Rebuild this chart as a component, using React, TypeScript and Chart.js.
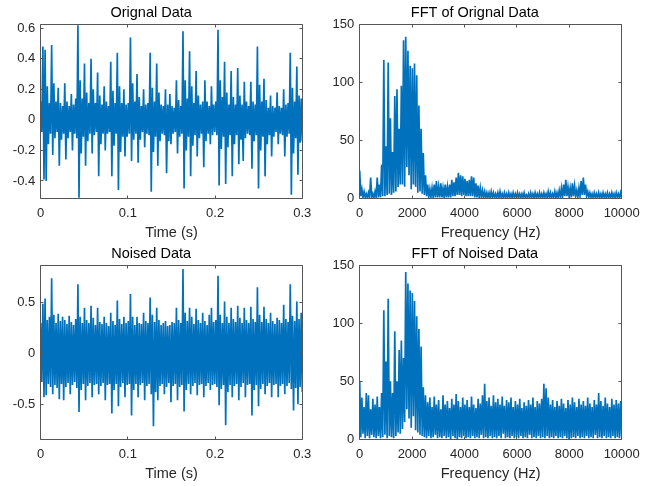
import React, { useEffect, useRef } from 'react';
import { Chart, registerables } from 'chart.js';

Chart.register(...registerables);

// ---------------- data ----------------
// Each plot is stored as an upper and a lower envelope per time/frequency bin.
const TIME_RANGE = [0, 0.3];
const TIME_TICKS = [0, 0.1, 0.2, 0.3];
const TIME_TICK_LABELS = ['0', '0.1', '0.2', '0.3'];

const FREQ_RANGE = [0, 10000];
const FREQ_TICKS = [0, 2000, 4000, 6000, 8000, 10000];
const FREQ_TICK_LABELS = ['0', '2000', '4000', '6000', '8000', '10000'];

const ORIG_Y_RANGE = [-0.515, 0.628];
const ORIG_Y_TICKS = [-0.4, -0.2, 0, 0.2, 0.4, 0.6];
const ORIG_Y_LABELS = ['-0.4', '-0.2', '0', '0.2', '0.4', '0.6'];

const NOISED_Y_RANGE = [-0.846, 0.87];
const NOISED_Y_TICKS = [-0.5, 0, 0.5];
const NOISED_Y_LABELS = ['-0.5', '0', '0.5'];

const FFT_Y_RANGE = [0, 150];
const FFT_Y_TICKS = [0, 50, 100, 150];
const FFT_Y_LABELS = ['0', '50', '100', '150'];

const origHigh = [
  0.12, 0.48, 0.46, 0.22, 0.11, 0.49, 0.24, 0.12, 0.21, 0.11,
  0.09, 0.24, 0.12, 0.09, 0.17, 0.10, 0.14, 0.62, 0.26, 0.14,
  0.37, 0.18, 0.11, 0.40, 0.20, 0.11, 0.31, 0.16, 0.10, 0.22,
  0.12, 0.09, 0.38, 0.19, 0.11, 0.44, 0.22, 0.11, 0.20, 0.10,
  0.11, 0.54, 0.24, 0.12, 0.30, 0.15, 0.09, 0.20, 0.10, 0.11,
  0.44, 0.21, 0.12, 0.37, 0.18, 0.10, 0.09, 0.20, 0.10, 0.17,
  0.09, 0.08, 0.26, 0.13, 0.09, 0.58, 0.26, 0.14, 0.45, 0.22,
  0.11, 0.32, 0.16, 0.10, 0.12, 0.26, 0.12, 0.09, 0.22, 0.10,
  0.12, 0.59, 0.26, 0.15, 0.38, 0.18, 0.10, 0.32, 0.15, 0.10,
  0.34, 0.16, 0.10, 0.25, 0.12, 0.09, 0.25, 0.12, 0.10, 0.48,
  0.23, 0.12, 0.27, 0.13, 0.08, 0.16, 0.09, 0.08, 0.18, 0.09,
  0.08, 0.20, 0.10, 0.11, 0.44, 0.21, 0.12, 0.35, 0.16, 0.14,
];
const origLow = [
  -0.08, -0.39, -0.40, -0.16, -0.09, -0.23, -0.12, -0.08, -0.30, -0.13,
  -0.09, -0.26, -0.12, -0.08, -0.20, -0.09, -0.12, -0.51, -0.22, -0.11,
  -0.30, -0.14, -0.09, -0.22, -0.10, -0.08, -0.37, -0.16, -0.09, -0.20,
  -0.09, -0.08, -0.37, -0.17, -0.09, -0.46, -0.21, -0.11, -0.24, -0.11,
  -0.09, -0.27, -0.13, -0.09, -0.28, -0.13, -0.08, -0.18, -0.09, -0.10,
  -0.47, -0.21, -0.11, -0.30, -0.14, -0.09, -0.10, -0.35, -0.14, -0.16,
  -0.09, -0.08, -0.22, -0.11, -0.09, -0.45, -0.20, -0.11, -0.37, -0.17,
  -0.10, -0.24, -0.12, -0.09, -0.31, -0.14, -0.09, -0.16, -0.10, -0.08,
  -0.10, -0.43, -0.19, -0.11, -0.42, -0.18, -0.10, -0.37, -0.16, -0.10,
  -0.29, -0.13, -0.27, -0.12, -0.09, -0.10, -0.32, -0.14, -0.10, -0.45,
  -0.20, -0.11, -0.37, -0.16, -0.10, -0.24, -0.11, -0.08, -0.16, -0.09,
  -0.10, -0.24, -0.11, -0.09, -0.49, -0.22, -0.12, -0.36, -0.15, -0.14,
];

const noisedHigh = [
  0.30, 0.49, 0.54, 0.33, 0.36, 0.74, 0.38, 0.30, 0.39, 0.32,
  0.36, 0.33, 0.29, 0.37, 0.31, 0.28, 0.34, 0.68, 0.36, 0.30,
  0.45, 0.33, 0.30, 0.47, 0.35, 0.28, 0.45, 0.31, 0.29, 0.36,
  0.30, 0.27, 0.40, 0.32, 0.28, 0.52, 0.34, 0.29, 0.36, 0.30,
  0.32, 0.585, 0.36, 0.28, 0.36, 0.30, 0.29, 0.40, 0.32, 0.30,
  0.55, 0.38, 0.31, 0.45, 0.33, 0.28, 0.30, 0.32, 0.27, 0.28,
  0.31, 0.30, 0.45, 0.33, 0.30, 0.83, 0.40, 0.32, 0.45, 0.36,
  0.29, 0.44, 0.33, 0.30, 0.40, 0.32, 0.28, 0.38, 0.45, 0.31,
  0.33, 0.765, 0.38, 0.30, 0.51, 0.36, 0.30, 0.45, 0.34, 0.31,
  0.47, 0.35, 0.30, 0.45, 0.33, 0.30, 0.46, 0.34, 0.31, 0.65,
  0.38, 0.31, 0.46, 0.34, 0.30, 0.40, 0.32, 0.29, 0.35, 0.33,
  0.30, 0.48, 0.34, 0.31, 0.68, 0.37, 0.32, 0.51, 0.34, 0.40,
];
const noisedLow = [
  -0.28, -0.43, -0.41, -0.30, -0.33, -0.40, -0.31, -0.34, -0.45, -0.30,
  -0.46, -0.33, -0.29, -0.40, -0.31, -0.28, -0.34, -0.575, -0.36, -0.30,
  -0.46, -0.32, -0.29, -0.43, -0.31, -0.30, -0.40, -0.32, -0.29, -0.46,
  -0.31, -0.30, -0.59, -0.36, -0.30, -0.52, -0.33, -0.29, -0.43, -0.31,
  -0.30, -0.61, -0.36, -0.30, -0.43, -0.31, -0.29, -0.46, -0.32, -0.30,
  -0.40, -0.716, -0.38, -0.46, -0.32, -0.30, -0.40, -0.33, -0.29, -0.48,
  -0.32, -0.30, -0.46, -0.33, -0.31, -0.57, -0.36, -0.30, -0.40, -0.32,
  -0.29, -0.41, -0.31, -0.30, -0.43, -0.32, -0.29, -0.36, -0.31, -0.30,
  -0.33, -0.51, -0.35, -0.31, -0.706, -0.38, -0.31, -0.43, -0.32, -0.30,
  -0.46, -0.33, -0.29, -0.43, -0.31, -0.30, -0.61, -0.36, -0.31, -0.52,
  -0.35, -0.30, -0.40, -0.32, -0.29, -0.43, -0.31, -0.30, -0.43, -0.32,
  -0.30, -0.40, -0.32, -0.29, -0.35, -0.56, -0.34, -0.50, -0.33, -0.38,
];

const fftOrigHigh = [
  24, 8, 6, 4, 5, 18, 4, 6, 18, 12,
  29, 119, 45, 117, 69, 40, 88, 94, 60, 97,
  136, 139, 127, 114, 112, 116, 106, 80, 60, 39,
  20, 12, 8, 9, 12, 15, 10, 13, 9, 12,
  10, 12, 16, 14, 18, 22, 20, 19, 17, 15,
  16, 19, 18, 13, 11, 9, 7, 6, 5, 5,
  6, 5, 4, 5, 6, 4, 5, 4, 5, 4,
  5, 4, 5, 4, 4, 5, 3, 4, 5, 4,
  5, 4, 5, 4, 5, 4, 6, 5, 4, 6,
  5, 7, 9, 12, 16, 10, 9, 13, 11, 7,
  9, 15, 18, 12, 6, 5, 4, 5, 4, 5,
  4, 5, 4, 5, 4, 5, 4, 5, 4, 5,
];
const fftOrigLow = [
  2, 1, 1, 0.5, 1, 1, 0.5, 1, 1, 1,
  2, 2, 3, 4, 3, 5, 6, 10, 12, 12,
  10, 27, 20, 8, 12, 10, 5, 6, 4, 3,
  2, 1, 1, 1, 1, 1, 1, 1, 1, 1,
  1, 1, 2, 2, 3, 3, 2, 3, 2, 2,
  2, 2, 1, 1, 1, 1, 1, 0.5, 1, 0.5,
  1, 0.5, 1, 0.5, 1, 0.5, 1, 0.5, 1, 0.5,
  1, 0.5, 1, 0.5, 1, 0.5, 1, 0.5, 1, 0.5,
  1, 0.5, 1, 0.5, 1, 0.5, 1, 0.5, 1, 0.5,
  1, 1, 1, 2, 2, 2, 1, 2, 2, 1,
  2, 3, 3, 2, 1, 1, 0.5, 1, 0.5, 1,
  0.5, 1, 0.5, 1, 0.5, 1, 0.5, 1, 0.5, 1,
];

const fftNoisedHigh = [
  50, 36, 28, 40, 38, 26, 35, 30, 37, 28,
  40, 111, 67, 121, 50, 40, 93, 50, 77, 85,
  70, 144, 134, 128, 126, 119, 106, 95, 80, 45,
  38, 32, 36, 28, 37, 30, 34, 26, 38, 30,
  33, 27, 35, 30, 39, 33, 28, 36, 30, 34,
  28, 37, 30, 27, 35, 31, 38, 48, 33, 36,
  29, 38, 32, 35, 30, 37, 29, 34, 32, 36,
  28, 33, 30, 35, 27, 32, 29, 34, 30, 36,
  28, 33, 31, 35, 48, 44, 36, 30, 34, 28,
  33, 29, 35, 31, 27, 34, 30, 36, 32, 28,
  35, 30, 33, 29, 36, 31, 28, 34, 30, 40,
  33, 29, 36, 31, 28, 35, 30, 34, 31, 33,
];
const fftNoisedLow = [
  2, 5, 1, 3, 1, 4, 2, 1, 3, 1,
  2, 4, 1, 3, 2, 1, 3, 6, 5, 9,
  15, 26, 18, 10, 20, 8, 6, 4, 3, 2,
  1, 3, 1, 2, 4, 1, 2, 1, 3, 1,
  2, 0.5, 3, 1, 0.5, 2, 1, 3, 1, 2,
  1, 3, 1, 2, 1, 4, 1, 2, 1, 3,
  1, 2, 1, 3, 1, 5, 1, 2, 1, 3,
  1, 2, 1, 3, 1, 2, 1, 4, 1, 2,
  1, 3, 1, 2, 1, 3, 1, 2, 1, 3,
  1, 2, 1, 3, 1, 0.5, 1, 2, 1, 3,
  1, 2, 1, 3, 1, 2, 1, 4, 1, 2,
  1, 3, 1, 2, 1, 3, 1, 2, 1, 3,
];

// ---------------- styles / layout ----------------
const BLUE = '#0072BD';
const AXIS_COLOR = '#555555';
const TEXT_COLOR = '#262626';
const FONT = '"Liberation Sans", Arial, Helvetica, sans-serif';
const TICK_SIZE = 13;
const LABEL_SIZE = 14.5;
const TITLE_SIZE = 14.5;
const TICK_LEN = 3;
const LINE_WIDTH = 1.7;

type AxisDef = { range: number[]; ticks: number[]; labels: string[] };
const AXES: Record<string, AxisDef> = {
  time: { range: TIME_RANGE, ticks: TIME_TICKS, labels: TIME_TICK_LABELS },
  freq: { range: FREQ_RANGE, ticks: FREQ_TICKS, labels: FREQ_TICK_LABELS },
  orig: { range: ORIG_Y_RANGE, ticks: ORIG_Y_TICKS, labels: ORIG_Y_LABELS },
  noised: { range: NOISED_Y_RANGE, ticks: NOISED_Y_TICKS, labels: NOISED_Y_LABELS },
  fft: { range: FFT_Y_RANGE, ticks: FFT_Y_TICKS, labels: FFT_Y_LABELS },
};

type Panel = {
  key: string; title: string; xLabel: string;
  high: number[]; low: number[]; xAxis: string; yAxis: string;
  left: number; top: number; w: number; h: number;
  area: { l: number; t: number; r: number; b: number };
};

const PANELS: Panel[] = [
  { key: 'orig', title: 'Orignal Data', xLabel: 'Time (s)', high: origHigh, low: origLow, xAxis: 'time', yAxis: 'orig',
    left: 0, top: 0, w: 328, h: 243, area: { l: 40.7, t: 24, r: 302.3, b: 198.5 } },
  { key: 'fftOrig', title: 'FFT of Orignal Data', xLabel: 'Frequency (Hz)', high: fftOrigHigh, low: fftOrigLow, xAxis: 'freq', yAxis: 'fft',
    left: 328, top: 0, w: 328, h: 243, area: { l: 31.7, t: 24, r: 293.7, b: 198.5 } },
  { key: 'noised', title: 'Noised Data', xLabel: 'Time (s)', high: noisedHigh, low: noisedLow, xAxis: 'time', yAxis: 'noised',
    left: 0, top: 243, w: 328, h: 243, area: { l: 40.7, t: 22, r: 302.3, b: 196.5 } },
  { key: 'fftNoised', title: 'FFT of Noised Data', xLabel: 'Frequency (Hz)', high: fftNoisedHigh, low: fftNoisedLow, xAxis: 'freq', yAxis: 'fft',
    left: 328, top: 243, w: 328, h: 243, area: { l: 31.7, t: 22, r: 293.7, b: 196.5 } },
];

const TITLE_GAP = 11;      // chart-area top to title centre
const XLABEL_GAP = 34.5;   // chart-area bottom to x-label centre
const XTICK_GAP = 14.5;    // chart-area bottom to tick label centre

// Builds the line points by alternating the upper and lower envelope of each bin.
function envelopePoints(high: number[], low: number[], range: number[]) {
  const n = high.length;
  const step = (range[1] - range[0]) / (n - 0.5);
  const pts: { x: number; y: number }[] = [];
  for (let i = 0; i < n; i++) {
    pts.push({ x: range[0] + i * step, y: high[i] });
    pts.push({ x: range[0] + (i + 0.5) * step, y: low[i] });
  }
  return pts;
}

const boxPlugin = {
  id: 'matlabBox',
  afterDatasetsDraw(chart: any) {
    const { ctx, chartArea: a, scales } = chart;
    const L = Math.floor(a.left) + 0.5;
    const R = Math.floor(a.right) + 0.5;
    const T = Math.floor(a.top) + 0.5;
    const B = Math.floor(a.bottom) + 0.5;
    ctx.save();
    ctx.strokeStyle = AXIS_COLOR;
    ctx.lineWidth = 1;
    ctx.beginPath();
    ctx.rect(L, T, R - L, B - T);
    scales.x.ticks.forEach((t: any) => {
      const px = Math.floor(scales.x.getPixelForValue(t.value)) + 0.5;
      ctx.moveTo(px, B); ctx.lineTo(px, B - TICK_LEN);
      ctx.moveTo(px, T); ctx.lineTo(px, T + TICK_LEN);
    });
    scales.y.ticks.forEach((t: any) => {
      const py = Math.floor(scales.y.getPixelForValue(t.value)) + 0.5;
      ctx.moveTo(L, py); ctx.lineTo(L + TICK_LEN, py);
      ctx.moveTo(R, py); ctx.lineTo(R - TICK_LEN, py);
    });
    ctx.stroke();
    ctx.restore();
  },
};

function makeChart(canvas: HTMLCanvasElement, p: Panel) {
  const xa = AXES[p.xAxis];
  const ya = AXES[p.yAxis];
  const titleLH = TITLE_SIZE * 1.2;
  const titlePadTop = p.area.t - TITLE_GAP - titleLH / 2;
  const titlePadBottom = p.area.t - titlePadTop - titleLH;
  const xScaleH = p.h - p.area.b;
  const xTitlePadBottom = xScaleH - XLABEL_GAP - (LABEL_SIZE * 1.2) / 2;
  const xTickPad = XTICK_GAP - (TICK_SIZE * 1.2) / 2;

  return new Chart(canvas, {
    type: 'line',
    data: {
      datasets: [{
        data: envelopePoints(p.high, p.low, xa.range),
        borderColor: BLUE,
        borderWidth: LINE_WIDTH,
        borderJoinStyle: 'miter',
        pointRadius: 0,
        fill: false,
        tension: 0,
      }],
    },
    options: {
      animation: false,
      responsive: false,
      devicePixelRatio: 1,
      events: [],
      layout: { padding: { left: 0, top: 0, bottom: 0, right: p.w - p.area.r } },
      plugins: {
        legend: { display: false },
        tooltip: { enabled: false },
        title: {
          display: true,
          text: p.title,
          color: '#000000',
          font: { family: FONT, size: TITLE_SIZE, weight: 'normal', lineHeight: 1.2 },
          padding: { top: titlePadTop, bottom: titlePadBottom },
        },
      },
      scales: {
        x: {
          type: 'linear',
          min: xa.range[0],
          max: xa.range[1],
          afterBuildTicks: (axis: any) => { axis.ticks = xa.ticks.map((v) => ({ value: v })); },
          afterFit: (axis: any) => { axis.height = xScaleH; },
          grid: { display: false, drawTicks: false },
          border: { display: false },
          ticks: {
            autoSkip: false,
            maxRotation: 0,
            padding: xTickPad,
            color: TEXT_COLOR,
            font: { family: FONT, size: TICK_SIZE, lineHeight: 1.2 },
            callback: (v: any) => xa.labels[xa.ticks.indexOf(v)] ?? '',
          },
          title: {
            display: true,
            text: p.xLabel,
            color: TEXT_COLOR,
            font: { family: FONT, size: LABEL_SIZE, lineHeight: 1.2 },
            padding: { top: 0, bottom: xTitlePadBottom },
          },
        },
        y: {
          type: 'linear',
          min: ya.range[0],
          max: ya.range[1],
          afterBuildTicks: (axis: any) => { axis.ticks = ya.ticks.map((v) => ({ value: v })); },
          afterFit: (axis: any) => { axis.width = p.area.l; },
          grid: { display: false, drawTicks: false },
          border: { display: false },
          ticks: {
            autoSkip: false,
            padding: 5.5,
            color: TEXT_COLOR,
            font: { family: FONT, size: TICK_SIZE, lineHeight: 1.2 },
            callback: (v: any) => ya.labels[ya.ticks.indexOf(v)] ?? '',
          },
        },
      },
    } as any,
    plugins: [boxPlugin],
  });
}

export default function App() {
  const refs = useRef<(HTMLCanvasElement | null)[]>([]);
  useEffect(() => {
    const charts = PANELS.map((p, i) => makeChart(refs.current[i] as HTMLCanvasElement, p));
    return () => charts.forEach((c) => c.destroy());
  }, []);
  return (
    <div style={{ position: 'fixed', left: 0, top: 0, width: 656, height: 486, background: '#ffffff' }}>
      {PANELS.map((p, i) => (
        <canvas
          key={p.key}
          ref={(el) => { refs.current[i] = el; }}
          width={p.w}
          height={p.h}
          style={{ position: 'absolute', left: p.left, top: p.top, width: p.w, height: p.h }}
        />
      ))}
    </div>
  );
}
